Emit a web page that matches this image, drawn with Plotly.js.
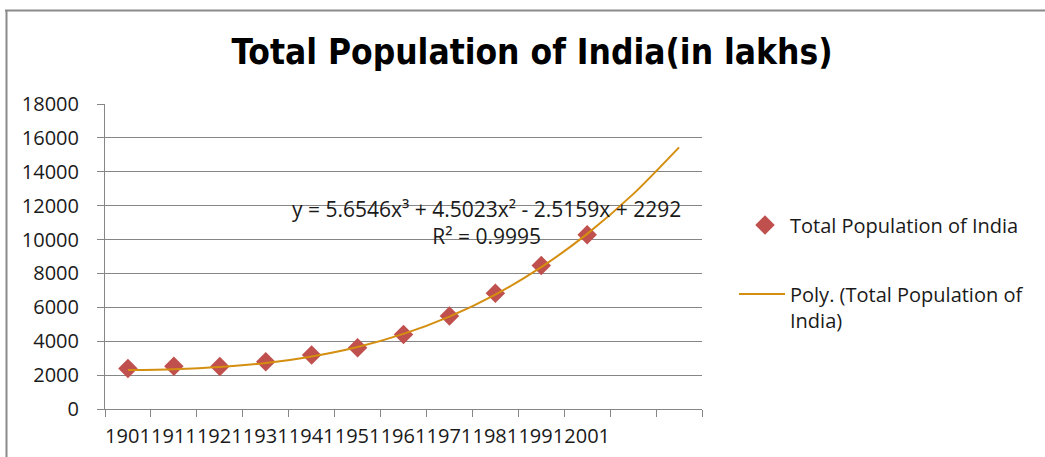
<!DOCTYPE html>
<html>
<head>
<meta charset="utf-8">
<script src="https://cdn.plot.ly/plotly-3.0.1.min.js"></script>
<style>
  html, body { margin: 0; padding: 0; background: #fff; }
  #chart { width: 1045px; height: 457px; }
</style>
</head>
<body>
<div id="chart"></div>
<script>
// ---- data ----
const categories = ['1901','1911','1921','1931','1941','1951','1961','1971','1981','1991','2001',' ','  '];
const years = ['1901','1911','1921','1931','1941','1951','1961','1971','1981','1991','2001'];
const population = [2384, 2521, 2513, 2790, 3187, 3611, 4392, 5482, 6833, 8463, 10287];
// polynomial trendline values at each category (incl. 2 forecast periods)
const trendValues = [2300, 2350, 2478, 2716, 3099, 3660, 4435, 5455, 6756, 8372, 10335, 12681, 15443];
const yTicks = [0, 2000, 4000, 6000, 8000, 10000, 12000, 14000, 16000, 18000];
const titleText = 'Total Population of India(in lakhs)';
const seriesName = 'Total Population of India';
const trendName = 'Poly. (Total Population of<br>India)';
const equationText = 'y = 5.6546x³ + 4.5023x² - 2.5159x + 2292<br>R² = 0.9995';

// ---- layout helpers (pixel -> paper) ----
const W = 1045, H = 457;
const L = 105, R = 702, T = 104, B = 409;
const px = v => (v - L) / (R - L);
const py = v => (B - v) / (B - T);

const font = "'Open Sans', 'DejaVu Sans', sans-serif";

const traces = [
  {
    type: 'scatter', mode: 'markers', name: seriesName,
    x: years, y: population,
    marker: { symbol: 'diamond', size: 15, color: '#C0504D' },
    legend: 'legend', cliponaxis: false
  },
  {
    type: 'scatter', mode: 'lines', name: trendName,
    x: categories, y: trendValues,
    line: { color: '#D48E10', width: 2, shape: 'spline', smoothing: 0.8 },
    legend: 'legend2'
  }
];

const layout = {
  width: W, height: H,
  margin: { l: L, r: W - R, t: T, b: H - B },
  paper_bgcolor: '#ffffff', plot_bgcolor: '#ffffff',
  font: { family: font, color: '#1a1a1a' },
  title: {
    text: '<b>' + titleText + '</b>',
    font: { family: "'Liberation Sans Narrow', 'DejaVu Sans Condensed', sans-serif", size: 35, color: '#000' },
    x: 532 / W, xref: 'container', xanchor: 'center',
    y: 1 - 52 / H, yref: 'container', yanchor: 'middle'
  },
  xaxis: {
    type: 'category', categoryorder: 'array', categoryarray: categories,
    range: [-0.5, categories.length - 0.5],
    tickson: 'boundaries', ticks: 'outside', ticklen: 7, tickcolor: '#868686',
    tickangle: 0,
    showline: true, linecolor: '#868686', linewidth: 1,
    showgrid: false, zeroline: false,
    tickfont: { family: font, size: 20, color: '#1a1a1a' },
    ticklabelstandoff: 9,
    fixedrange: true
  },
  yaxis: {
    range: [0, 18000], tickvals: yTicks, ticktext: yTicks.map(String),
    ticks: 'outside', ticklen: 7, tickcolor: '#868686',
    showline: true, linecolor: '#868686', linewidth: 1,
    showgrid: true, gridcolor: '#868686', gridwidth: 1, zeroline: false,
    tickfont: { family: font, size: 20, color: '#1a1a1a' },
    ticklabelstandoff: 14,
    fixedrange: true
  },
  showlegend: true,
  legend: {
    x: px(740), xref: 'paper', xanchor: 'left',
    y: py(225), yanchor: 'middle', itemwidth: 40,
    font: { family: font, size: 20, color: '#1a1a1a' },
    bgcolor: 'rgba(0,0,0,0)'
  },
  legend2: {
    x: px(734), xref: 'paper', xanchor: 'left',
    y: py(307), yanchor: 'middle', valign: 'top', itemwidth: 46,
    font: { family: font, size: 20, color: '#1a1a1a' },
    bgcolor: 'rgba(0,0,0,0)'
  },
  annotations: [{
    text: equationText, showarrow: false,
    xref: 'paper', yref: 'paper', x: px(486), y: py(222),
    xanchor: 'center', yanchor: 'middle', align: 'center',
    font: { family: font, size: 21, color: '#1a1a1a' }
  }],
  shapes: [
    { type: 'line', xref: 'paper', yref: 'paper', x0: px(5), x1: px(1050), y0: py(10.5), y1: py(10.5),
      line: { color: '#8a8a8a', width: 2 } },
    { type: 'line', xref: 'paper', yref: 'paper', x0: px(6.5), x1: px(6.5), y0: py(10), y1: py(470),
      line: { color: '#8a8a8a', width: 2 } }
  ]
};

Plotly.newPlot('chart', traces, layout, { displayModeBar: false, staticPlot: true });
</script>
</body>
</html>
